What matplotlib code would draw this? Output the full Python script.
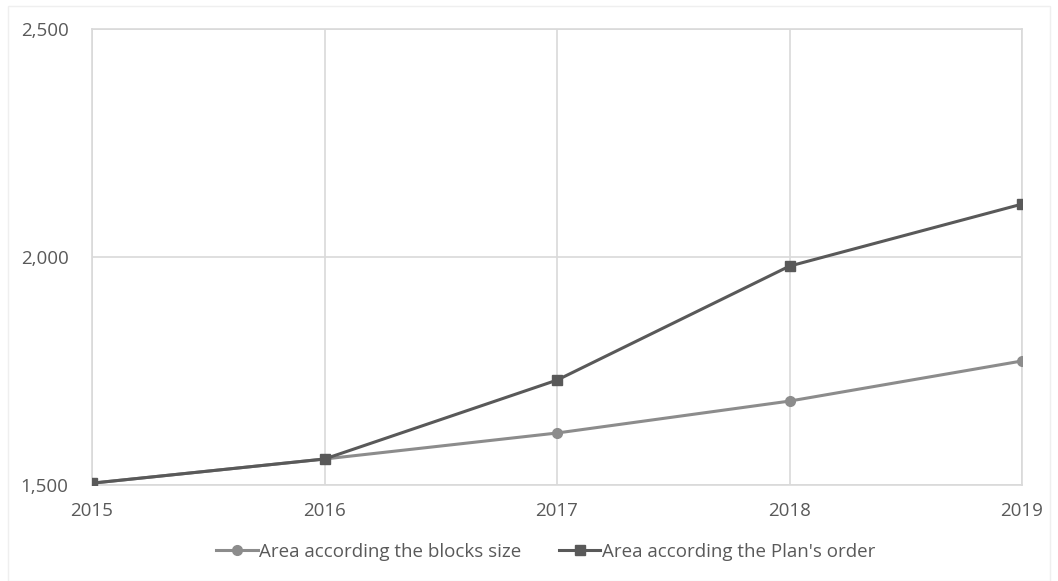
import matplotlib
matplotlib.use("Agg")
import matplotlib.pyplot as plt
from matplotlib.ticker import FuncFormatter
from matplotlib.patches import Rectangle

years = [2015, 2016, 2017, 2018, 2019]
blocks_size = [1504, 1557, 1614, 1684, 1772]
plan_order = [1504, 1557, 1730, 1980, 2116]
series_labels = ["Area according the blocks size", "Area according the Plan's order"]

plt.rcParams['font.family'] = ['Open Sans', 'DejaVu Sans']

fig = plt.figure(figsize=(10.58, 5.81), dpi=100)
ax = fig.add_axes([92/1058, (581-485)/581, (1022-92)/1058, (485-29)/581])

fig.patches.append(Rectangle((8/1058, 0.0), (1050-8)/1058, (581-6)/581 - 0.0,
                             transform=fig.transFigure, fill=False,
                             edgecolor='#efefef', linewidth=1))

ax.plot(years, blocks_size, color='#8c8c8c', lw=2.2, marker='o', ms=7,
        label=series_labels[0], zorder=3)
ax.plot(years, plan_order, color='#595959', lw=2.2, marker='s', ms=6.5,
        label=series_labels[1], zorder=4)

ax.set_xlim(2015, 2019)
ax.set_ylim(1500, 2500)
ax.set_yticks([1500, 2000, 2500])
ax.set_xticks(years)
ax.yaxis.set_major_formatter(FuncFormatter(lambda v, p: f"{int(v):,}"))
ax.grid(True, color='#d9d9d9', lw=1.2)
ax.set_axisbelow(True)
for s in ax.spines.values():
    s.set_color('#d9d9d9')
    s.set_linewidth(1.2)
ax.tick_params(length=0, labelsize=13.5, colors='#595959')
ax.tick_params(axis='x', pad=12)
ax.tick_params(axis='y', pad=17)

leg = fig.legend(loc='center', bbox_to_anchor=(546/1058, 1 - 552/581), ncol=2,
                 frameon=False, fontsize=13.5, handlelength=2.2, handletextpad=0.1,
                 columnspacing=2.0)
for t in leg.get_texts():
    t.set_color('#595959')

fig.savefig('out.png', dpi=100, facecolor='white')
